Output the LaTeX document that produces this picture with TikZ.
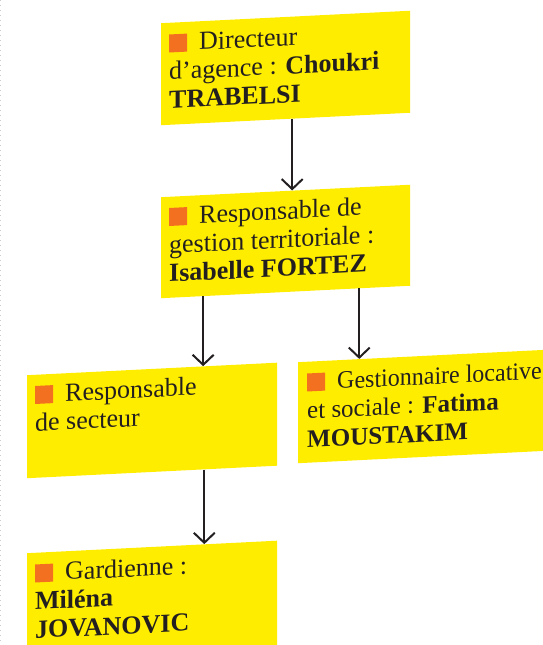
\documentclass[tikz,border=0pt]{standalone}
\usepackage{fontspec}
\setmainfont{Liberation Serif}
\usetikzlibrary{arrows.meta,calc}
\definecolor{boxyellow}{HTML}{FFED00}
\definecolor{sqorange}{HTML}{F37021}
\definecolor{ink}{HTML}{231F20}
\definecolor{edgegray}{HTML}{CCCCCC}
\newcommand{\orsq}{\textcolor{sqorange}{\rule[-1pt]{18pt}{18pt}}\hspace{12pt}}
\newcommand{\boxfont}{\fontsize{26}{28.5}\selectfont}
\begin{document}
\begin{tikzpicture}[x=1pt,y=-1pt,
  box/.style={fill=boxyellow, draw=none, inner sep=0pt, anchor=north west,
    minimum width=#1, yslant=0.05},
  lbl/.style={anchor=base west, inner sep=0pt, yslant=0.05, text=ink},
  arr/.style={draw=ink, line width=2pt, -{Straight Barb[length=10pt,width=21pt]}}]
\fill[white] (0,0) rectangle (542,645);
\useasboundingbox (0,0) rectangle (542,645);
\draw[edgegray, line width=0.8pt, dash pattern=on 1pt off 4pt] (0.5,0) -- (0.5,645);

% boxes
\node[box=249pt, minimum height=102pt] (b1) at (161,23) {};
\node[box=249pt, minimum height=101pt] (b2) at (161,197) {};
\node[box=250pt, minimum height=103pt] (b3) at (27,375) {};
\node[box=250pt, minimum height=101pt] (b4) at (298,362) {};
\node[box=250pt, minimum height=115pt] (b5) at (27,553) {};

% texts
\node[lbl] (t1) at ($(b1.north west)+(8,28.5)$) {\parbox[t]{240pt}{\boxfont\raggedright
  \orsq Directeur\\ d’agence : \textbf{Choukri}\\ \textbf{TRABELSI}}};
\node[lbl] (t2) at ($(b2.north west)+(8,28)$) {\parbox[t]{240pt}{\boxfont\raggedright
  \orsq Responsable de\\ gestion territoriale :\\ \textbf{Isabelle FORTEZ}}};
\node[lbl] (t3) at ($(b3.north west)+(8,28)$) {\parbox[t]{240pt}{\boxfont\raggedright
  \orsq Responsable\\ de secteur}};
\node[lbl] (t4) at ($(b4.north west)+(9,28.5)$) {\parbox[t]{240pt}{\fontsize{25}{28.5}\selectfont\raggedright
  \orsq\scalebox{0.96}[1]{Gestionnaire locative}\\ et sociale : \textbf{Fatima}\\ \textbf{MOUSTAKIM}}};
\node[lbl] (t5) at ($(b5.north west)+(8,28.5)$) {\parbox[t]{240pt}{\boxfont\raggedright
  \orsq Gardienne :\\ \textbf{Miléna}\\ \textbf{JOVANOVIC}}};

% connectors
\coordinate (s1) at ($(b1.south west)!0.526!(b1.south east)$);
\coordinate (e1) at ($(b2.north west)!0.526!(b2.north east)$);
\draw[arr] (s1) -- (s1 |- e1);

\coordinate (s2) at ($(b2.south west)!0.169!(b2.south east)$);
\coordinate (e2) at ($(b3.north west)!0.704!(b3.north east)$);
\draw[arr] (s2) -- (s2 |- e2);

\coordinate (s3) at ($(b2.south west)!0.795!(b2.south east)$);
\coordinate (e3) at ($(b4.north west)!0.244!(b4.north east)$);
\draw[arr] (s3) -- (s3 |- e3);

\coordinate (s4) at ($(b3.south west)!0.708!(b3.south east)$);
\coordinate (e4) at ($(b5.north west)!0.708!(b5.north east)$);
\draw[arr] (s4) -- (s4 |- e4);
\end{tikzpicture}
\end{document}
